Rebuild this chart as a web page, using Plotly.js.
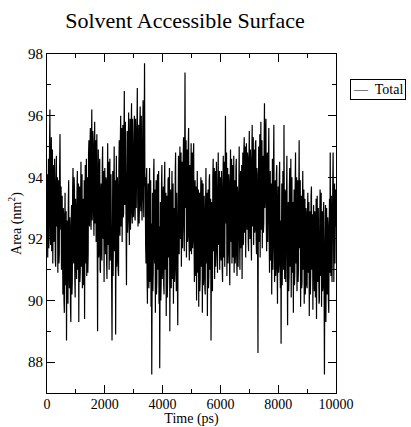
<!DOCTYPE html>
<html>
<head>
<meta charset="utf-8">
<script src="https://cdn.plot.ly/plotly-3.0.1.min.js"></script>
<style>html,body{margin:0;padding:0;background:#fff;}#chart{width:411px;height:427px;}</style>
</head>
<body>
<div id="chart"></div>
<script>
// Sampling interval of the trajectory (ps)
const timeStep = 12.5;
// Total solvent accessible surface (nm^2), one value per 12.5 ps (rows of 500 ps)
const areaTotal = [
93.2, 94.1, 91.4, 92.9, 94.6, 91.7, 92.1, 95.0, 96.2, 93.0, 91.8, 94.2, 95.3, 91.6, 92.5, 94.9, 91.2, 93.3, 94.4, 91.9, 92.0, 94.6, 93.8, 91.3, 91.1, 93.6, 94.7, 92.4, 92.6, 94.0, 90.9, 93.1, 93.9, 91.2, 91.5, 94.3, 95.4, 92.8, 92.3, 93.7,
91.0, 92.3, 93.4, 91.1, 90.2, 93.0, 92.8, 90.0, 89.6, 92.4, 93.5, 90.5, 90.8, 92.9, 88.7, 91.6, 92.6, 90.1, 89.9, 93.2, 93.9, 91.0, 90.4, 92.7, 92.2, 89.8, 89.3, 92.5, 93.1, 90.2, 90.6, 93.6, 94.3, 91.5, 91.2, 94.0, 93.6, 90.7, 90.1, 93.3,
92.9, 91.3, 90.7, 93.5, 94.2, 91.0, 91.4, 93.8, 89.3, 92.0, 93.7, 90.6, 90.9, 93.2, 94.5, 91.1, 91.8, 94.1, 90.4, 92.6, 93.3, 90.5, 91.0, 93.9, 89.4, 92.8, 94.4, 91.2, 92.2, 94.6, 90.8, 93.0, 94.0, 90.9, 91.5, 94.7, 95.2, 92.6, 92.4, 95.0,
95.6, 93.1, 92.3, 94.8, 96.2, 92.6, 93.0, 95.5, 95.1, 92.8, 92.1, 94.7, 95.8, 92.5, 93.4, 95.2, 91.9, 94.0, 95.4, 92.2, 89.0, 92.7, 94.9, 91.4, 91.6, 94.3, 94.6, 91.0, 90.9, 93.5, 93.8, 91.7, 91.3, 94.4, 95.0, 92.1, 92.0, 94.2, 90.6, 93.4,
94.3, 91.9, 91.5, 94.0, 93.9, 91.2, 90.7, 93.6, 95.1, 91.8, 92.2, 94.5, 91.0, 93.2, 94.6, 91.3, 92.7, 94.1, 90.9, 92.9, 88.7, 91.7, 94.2, 90.8, 91.8, 94.4, 95.0, 91.6, 92.5, 93.9, 88.9, 92.3, 94.7, 91.1, 91.4, 94.0, 93.5, 91.0, 90.8, 94.4,
95.2, 92.6, 92.1, 95.1, 96.0, 92.4, 93.3, 95.6, 91.9, 94.3, 95.7, 92.7, 92.8, 95.3, 96.8, 93.1, 93.5, 95.8, 92.0, 94.6, 90.5, 93.4, 95.5, 92.2, 92.6, 95.0, 96.1, 93.0, 91.8, 94.9, 95.9, 92.3, 93.0, 95.4, 96.4, 92.9, 92.5, 95.9, 94.8, 92.7,
93.2, 95.3, 96.0, 92.8, 92.6, 95.9, 95.4, 93.0, 93.8, 96.2, 96.9, 93.4, 92.4, 95.0, 95.7, 92.5, 93.1, 95.8, 96.3, 93.2, 92.9, 96.0, 94.9, 92.6, 93.6, 95.6, 96.5, 93.3, 92.7, 95.2, 97.7, 93.7, 94.0, 91.8, 91.2, 93.9, 94.3, 90.8, 89.9, 93.0,
93.8, 91.1, 90.4, 93.4, 94.3, 90.6, 91.6, 93.9, 89.8, 92.5, 87.6, 91.9, 93.5, 90.3, 90.9, 94.0, 94.6, 91.5, 91.2, 93.6, 89.6, 92.8, 93.9, 90.2, 90.6, 93.7, 94.1, 91.0, 92.0, 94.2, 89.9, 92.4, 87.8, 91.4, 93.2, 90.0, 90.5, 93.8, 94.4, 90.7,
91.1, 93.3, 93.7, 90.5, 90.2, 93.8, 94.5, 91.0, 91.7, 93.5, 89.5, 92.6, 93.4, 90.1, 90.8, 93.9, 94.0, 91.4, 92.3, 94.3, 89.0, 91.8, 93.6, 90.9, 90.4, 93.1, 94.2, 90.7, 91.3, 93.8, 89.9, 92.9, 93.0, 90.6, 91.0, 94.1, 94.8, 91.3, 90.3, 93.5,
92.6, 90.4, 89.2, 93.0, 94.7, 91.8, 91.5, 94.2, 95.0, 92.0, 92.4, 94.8, 91.1, 93.6, 94.5, 91.7, 92.9, 94.6, 95.3, 92.3, 91.6, 94.1, 97.4, 93.5, 93.0, 95.2, 91.4, 93.9, 94.9, 91.9, 92.2, 95.0, 95.6, 92.1, 91.3, 94.4, 94.3, 91.6, 92.7, 95.1,
91.5, 93.8, 94.8, 91.7, 92.0, 94.6, 95.1, 92.1, 90.6, 93.3, 93.9, 90.8, 91.2, 93.7, 90.0, 92.4, 94.2, 90.9, 91.8, 93.6, 89.8, 92.2, 93.5, 90.3, 90.7, 93.2, 94.0, 91.1, 92.1, 93.9, 89.6, 92.0, 93.8, 90.5, 90.9, 93.4, 92.7, 90.4, 90.2, 93.1,
94.3, 91.2, 91.4, 93.5, 89.5, 92.3, 93.6, 90.4, 90.8, 93.9, 94.1, 91.0, 91.9, 93.3, 88.7, 92.0, 93.2, 90.6, 90.3, 94.0, 94.6, 91.6, 92.0, 94.3, 90.7, 92.8, 94.2, 91.1, 91.5, 94.5, 93.7, 91.3, 90.9, 93.6, 94.8, 91.8, 92.4, 94.2, 91.0, 93.5,
94.0, 91.6, 91.3, 94.2, 93.5, 91.0, 90.6, 93.7, 94.7, 91.4, 92.2, 94.5, 91.1, 93.4, 96.0, 92.5, 92.6, 94.8, 90.8, 93.1, 94.3, 91.2, 91.7, 94.1, 93.8, 91.5, 90.5, 93.6, 94.9, 91.9, 92.0, 94.6, 91.2, 93.3, 94.4, 91.4, 92.8, 94.7, 90.9, 93.0,
93.9, 91.2, 91.6, 94.3, 94.6, 91.5, 90.8, 93.7, 93.3, 91.1, 92.1, 94.9, 95.0, 92.0, 91.0, 93.8, 94.2, 91.7, 92.5, 94.4, 90.7, 93.0, 94.8, 91.8, 91.9, 94.9, 95.3, 92.2, 92.7, 95.0, 91.4, 93.6, 95.1, 92.6, 92.3, 94.8, 94.6, 91.9, 91.6, 94.5,
95.5, 92.7, 92.0, 94.9, 94.4, 92.1, 91.3, 94.6, 95.7, 92.4, 93.0, 95.3, 91.8, 93.7, 94.9, 92.2, 92.4, 95.1, 95.2, 92.0, 91.5, 94.3, 94.1, 91.6, 88.3, 92.9, 95.0, 91.9, 92.6, 95.4, 91.4, 94.0, 95.8, 92.3, 93.1, 95.2, 91.7, 94.4, 94.7, 92.2,
92.5, 95.0, 96.4, 93.0, 93.4, 95.5, 95.9, 92.6, 91.6, 94.5, 94.8, 91.9, 92.8, 95.2, 95.6, 92.1, 90.9, 93.5, 94.2, 91.3, 91.5, 93.8, 90.2, 92.7, 94.6, 91.0, 92.0, 94.4, 95.7, 91.8, 90.6, 93.3, 93.9, 90.8, 91.1, 94.1, 94.4, 91.2, 89.9, 92.8,
93.7, 90.9, 91.2, 93.9, 94.5, 91.3, 90.4, 92.6, 88.6, 91.7, 93.8, 90.5, 91.6, 94.2, 94.1, 91.0, 95.7, 92.4, 90.7, 93.6, 93.5, 90.6, 91.9, 94.3, 94.7, 91.5, 89.2, 92.1, 93.2, 90.3, 90.8, 93.7, 94.3, 91.1, 92.2, 94.6, 90.1, 92.9, 94.0, 90.9,
91.4, 93.2, 89.6, 92.3, 93.6, 90.5, 90.9, 93.8, 94.8, 91.2, 92.1, 94.0, 90.3, 92.7, 93.9, 90.6, 91.0, 93.5, 95.2, 91.7, 92.4, 93.9, 89.8, 92.0, 93.4, 90.4, 90.6, 93.1, 94.2, 91.0, 91.3, 93.6, 89.9, 92.5, 93.3, 90.2, 90.7, 93.0, 92.8, 90.5,
90.4, 92.7, 93.5, 90.9, 91.6, 93.2, 89.5, 92.0, 92.9, 90.2, 90.8, 93.4, 93.7, 91.0, 91.2, 92.8, 89.7, 91.9, 93.1, 90.5, 90.3, 92.9, 92.6, 90.1, 91.5, 93.3, 89.4, 91.8, 93.4, 90.7, 90.6, 93.0, 92.2, 89.9, 90.0, 92.6, 93.6, 90.8, 91.1, 93.5,
89.8, 92.1, 92.9, 90.3, 90.5, 92.8, 93.2, 90.7, 87.6, 91.0, 91.7, 93.1, 89.3, 91.6, 93.0, 90.4, 90.2, 92.7, 92.4, 90.0, 89.6, 92.3, 93.3, 90.9, 94.8, 92.0, 90.8, 93.4, 92.1, 90.6, 91.4, 93.7, 94.8, 91.5, 90.6, 93.2, 93.8, 91.2, 92.9, 93.6,
92.4
];
const seriesName = "Total";
const chartTitle = "Solvent Accessible Surface";
const xTitle = "Time (ps)";
const yTitle = "Area (nm<sup>2</sup>)";

const times = areaTotal.map((_, i) => i * timeStep);

const serif = "Liberation Serif, Times New Roman, serif";

const trace = {
  x: times, y: areaTotal, type: "scatter", mode: "lines", name: seriesName,
  line: {color: "#000", width: 1.2}, showlegend: false
};

const axisCommon = {
  showgrid: false, zeroline: false, showline: true, linecolor: "#000", linewidth: 1,
  mirror: "ticks", ticks: "inside", ticklen: 8, tickcolor: "#000", tickwidth: 1,
  tickformat: "d"
};

const layout = {
  width: 411, height: 427,
  margin: {l: 47, r: 75, t: 54, b: 34, pad: 0, autoexpand: false},
  paper_bgcolor: "#fff", plot_bgcolor: "#fff",
  showlegend: false,
  title: {text: chartTitle, font: {family: serif, size: 22, color: "#000"},
          x: 185/411, xref: "container", xanchor: "center", y: 1 - 20/427, yref: "container", yanchor: "middle"},
  xaxis: Object.assign({}, axisCommon, {
    range: [0, 10000], dtick: 2000, tick0: 0,
    tickfont: {family: serif, size: 14, color: "#000"}, ticklabelstandoff: -2,
    minor: {dtick: 1000, ticks: "inside", ticklen: 4, tickcolor: "#000"},
    title: {text: xTitle, font: {family: serif, size: 14, color: "#000"}, standoff: 0}
  }),
  yaxis: Object.assign({}, axisCommon, {
    range: [87, 98], dtick: 2, tick0: 0,
    tickfont: {family: serif, size: 15, color: "#000"},
    minor: {dtick: 1, ticks: "inside", ticklen: 4, tickcolor: "#000"},
    title: {text: yTitle, font: {family: serif, size: 14, color: "#000"}, standoff: 3}
  }),
  annotations: [{
    text: "\u2014  " + seriesName, xref: "paper", yref: "paper",
    x: (350 - 47) / 289, xanchor: "left", y: (393 - 79) / 339, yanchor: "top",
    showarrow: false, bordercolor: "#000", borderwidth: 1, borderpad: 2, bgcolor: "#fff",
    font: {family: serif, size: 14, color: "#000"}
  }]
};

Plotly.newPlot("chart", [trace], layout, {staticPlot: true, displayModeBar: false});
</script>
</body>
</html>
